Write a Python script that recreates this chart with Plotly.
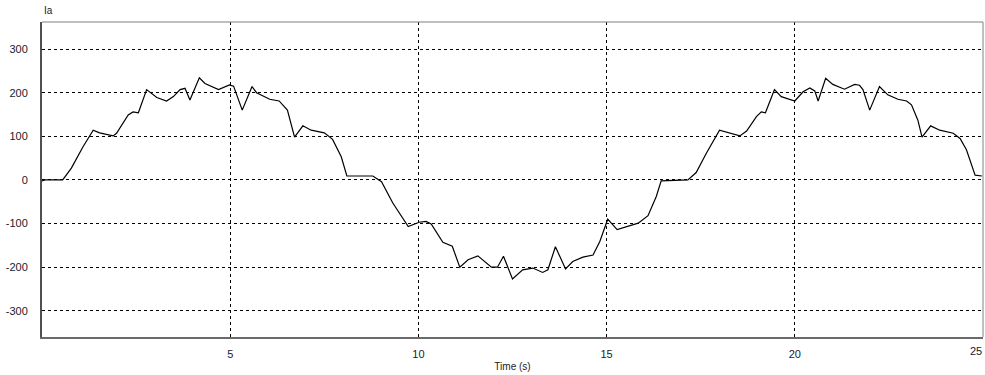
import plotly.graph_objects as go

# Phase current Ia sampled over time
time_s = [0, 0.08, 0.55, 0.78, 1.09, 1.36, 1.53, 1.89, 1.98, 2.29, 2.42, 2.56, 2.78, 3.05, 3.31,
          3.49, 3.67, 3.8, 3.93, 4.18, 4.33, 4.69, 4.98, 5.09, 5.32, 5.58, 5.7, 6.05, 6.3, 6.52,
          6.71, 6.93, 7.15, 7.5, 7.72, 7.95, 8.1, 8.79, 9.02, 9.32, 9.73, 10.02, 10.2, 10.34,
          10.65, 10.82, 10.9, 11.1, 11.32, 11.58, 11.94, 12.1, 12.26, 12.5, 12.77, 13.04, 13.3,
          13.44, 13.64, 13.91, 14.1, 14.37, 14.64, 14.82, 15.03, 15.28, 15.53, 15.84, 16.1,
          16.32, 16.45, 16.76, 17.16, 17.38, 17.65, 18.0, 18.27, 18.54, 18.72, 18.98, 19.11,
          19.22, 19.46, 19.64, 20.0, 20.22, 20.4, 20.53, 20.62, 20.82, 21.01, 21.32, 21.59,
          21.72, 21.81, 21.99, 22.25, 22.47, 22.74, 22.97, 23.1, 23.27, 23.38, 23.61, 23.85,
          24.21, 24.39, 24.56, 24.79, 24.97]
ia = [-2, 0, 0, 27, 76, 114, 108, 101, 107, 149, 156, 154, 207, 189, 181,
      191, 207, 210, 183, 234, 221, 207, 218, 215, 160, 214, 200, 185, 181, 160,
      98, 124, 114, 108, 93, 53, 9, 9, -4, -53, -107, -97, -95, -101,
      -143, -149, -152, -200, -183, -174, -200, -200, -175, -227, -206, -202, -212,
      -206, -153, -204, -187, -177, -172, -141, -90, -114, -107, -99, -82,
      -38, -2, -1, 0, 17, 61, 114, 107, 101, 112, 145, 156,
      154, 207, 191, 181, 202, 211, 204, 181, 233, 219, 208, 219,
      217, 207, 160, 214, 195, 185, 181, 172, 137, 98, 124, 114,
      107, 95, 69, 11, 9]

x_ticks = [5, 10, 15, 20]
x_last_tick = 25
y_ticks = [-300, -200, -100, 0, 100, 200, 300]

font_family = "Liberation Sans, Arial, sans-serif"
label_color = "#1a1a2a"

fig = go.Figure(go.Scatter(
    x=time_s, y=ia, mode="lines",
    line=dict(color="#000000", width=1.2),
    hoverinfo="x+y", showlegend=False,
))

fig.update_layout(
    width=985, height=375,
    margin=dict(l=42, r=2, t=22, b=38),
    paper_bgcolor="white", plot_bgcolor="white",
    font=dict(family=font_family, size=11, color=label_color),
    annotations=[
        dict(text="Ia", xref="paper", yref="paper", x=0, y=1,
             xanchor="left", yanchor="bottom", yshift=4,
             showarrow=False, font=dict(size=10, color=label_color)),
        # last x tick label sits flush against the right border
        dict(text=str(x_last_tick), xref="x", yref="paper", x=x_last_tick, y=0,
             xanchor="right", yanchor="top", yshift=-6, xshift=1,
             showarrow=False, font=dict(size=11, color=label_color)),
    ],
    shapes=[
        dict(type="line", xref="paper", yref="paper", x0=0, x1=1, y0=1, y1=1,
             line=dict(color="#808080", width=1)),
        dict(type="line", xref="paper", yref="paper", x0=1, x1=1, y0=0, y1=1,
             line=dict(color="#808080", width=1)),
    ],
)

fig.update_xaxes(
    range=[0, 25], tickvals=x_ticks + [x_last_tick], ticktext=[str(v) for v in x_ticks] + [""],
    showgrid=True, gridcolor="#000000", gridwidth=1, griddash="dot",
    zeroline=False, showline=True, linecolor="#6a6a6a", linewidth=2, mirror=False,
    ticks="", ticklabelstandoff=6,
    title=dict(text="Time (s)", font=dict(size=10, color=label_color), standoff=4),
)
fig.update_yaxes(
    range=[-360, 362], tickvals=y_ticks, ticktext=[str(v) for v in y_ticks],
    showgrid=True, gridcolor="#000000", gridwidth=1, griddash="dot",
    zeroline=False, showline=True, linecolor="#505050", linewidth=2, mirror=False,
    ticks="", ticklabelstandoff=10,
)

fig.write_html("out.html")
